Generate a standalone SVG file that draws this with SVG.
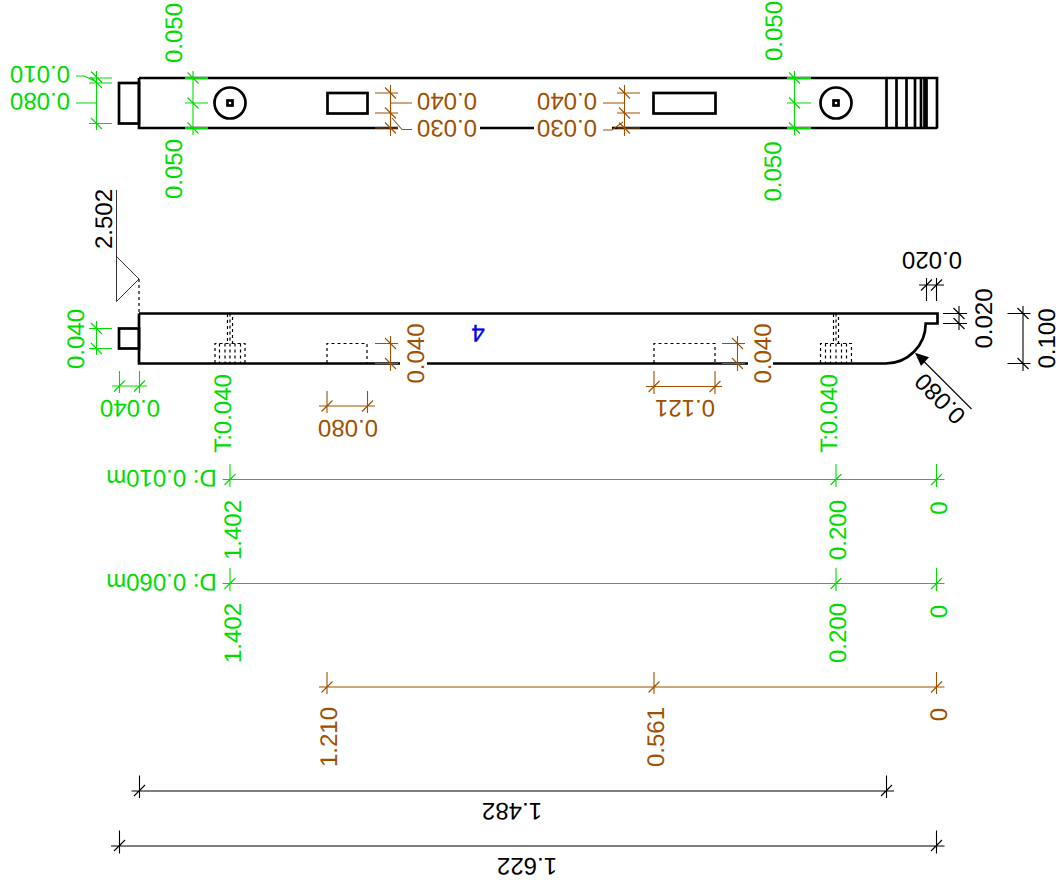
<svg xmlns="http://www.w3.org/2000/svg" width="1059" height="890" viewBox="0 0 1059 890">
<style>
text{font-family:"Liberation Sans",Arial,sans-serif;font-size:24px;text-anchor:middle;text-rendering:geometricPrecision}
.g{fill:#00dc00}.b{fill:#a05000}.k{fill:#000}
.lg,.lb,.lk,.ob,.th,.da{fill:none}
.lg{stroke:#00dc00;stroke-width:1.1}
.lb{stroke:#a05000;stroke-width:1.1}
.lk{stroke:#000;stroke-width:1.1}
.ob{stroke:#000;stroke-width:2.7;stroke-linejoin:miter}
.th{stroke:#000;stroke-width:1;opacity:.8}
.da{stroke:#000;stroke-width:1.2;stroke-dasharray:3 3}
.tg{stroke:#00dc00;stroke-width:2;fill:none}
</style>
<rect width="1059" height="890" fill="#fff"/>

<g id="plan-view">
<path class="ob" d="M139 78H937V128.500M937 128H612M534 128H480M398 128H139V78"/>
<rect class="ob" x="119" y="83" width="20" height="40.500"/>
<circle class="ob" cx="230" cy="103" r="15.500"/>
<rect class="ob" x="227.500" y="100.500" width="5" height="5"/>
<circle class="ob" cx="836" cy="103" r="15.500"/>
<rect class="ob" x="833.500" y="100.500" width="5" height="5"/>
<rect class="ob" x="327.500" y="93" width="40" height="20.500"/>
<rect class="ob" x="653.500" y="93" width="62" height="20.500"/>
<path class="ob" d="M886.500 78V128M896.500 78V128M906.500 78V128M915 78V128M921 78V128M924.500 78V128M926.500 78V128"/>
</g>

<g id="side-view">
<path class="ob" d="M139 313.500H937.500V323.500H925.700A40 40 0 0 1 885.700 363.500H773M748 363.500H427M400 363.500H139V313.500"/>
<rect class="ob" x="119" y="328.500" width="20" height="20"/>
<path class="da" d="M327 363V343.500H367V363M654 363V343.500H715V363"/>
<path class="da" d="M215 363V343.500H245V363M219.500 343.500V363M225 343.500V363M230 313.500V363M235 343.500V363M240.500 343.500V363M227.500 314V343M232.500 317V343"/>
<path class="da" d="M820.500 363V343.500H851.500V363M825.500 343.500V363M830.500 343.500V363M836 313.500V363M841.500 343.500V363M846.500 343.500V363M833.500 314V343M838.500 317V343"/>
<text transform="translate(478 325) rotate(180)" style="fill:#0000f0;stroke:#0000f0;stroke-width:.3">4</text>
</g>

<g id="level-marker">
<path class="th" d="M116.500 190V301.500L139 279L116.500 256.500"/>
<path class="da" d="M139 279V313"/>
<text class="k" transform="translate(112 219) rotate(-90)">2.502</text>
</g>

<g id="connectors">
<path class="lg" d="M96.500 71V130M89 78H112M89 83H112M89 123.500H112M91 71.500L102 82.500M91 77L102 88M91 118L102 129M76 76H84L96 81.500M76 103H96"/>
<path class="lg" d="M193 71V135M185 103H208M187.500 72.500L198.500 83.500M187.500 97.500L198.500 108.500M187.500 122.500L198.500 133.500"/>
<path class="tg" d="M185 78H208M185 128H208"/>
<path class="lg" d="M794.500 71V135M787 103H811M789 72.500L800 83.500M789 97.500L800 108.500M789 122.500L800 133.500"/>
<path class="tg" d="M787 78H811M787 128H811"/>
<path class="lb" d="M390.500 85V136M375 93H398M375 113H398M375 128H398M385 87.500L396 98.500M385 107.500L396 118.500M385 122.500L396 133.500M390 103H412M392 118L402 129.500H412"/>
<path class="lb" d="M624.500 85V136M617 93H640M617 113H640M617 128H640M619 87.500L630 98.500M619 107.500L630 118.500M619 122.500L630 133.500M603 103H624M623 122L612 130H603"/>
<path class="lg" d="M96.500 321V355M89 328.500H112M89 348.500H112M91 323L102 334M91 343L102 354"/>
<path class="lg" d="M119.500 371V393M139.500 371V393M112 386H147M114 391.500L125 380.500M134 391.500L145 380.500"/>
<path class="lb" d="M390.500 336V371M375 343.500H398M375 363.500H398M385 338L396 349M385 358L396 369"/>
<path class="lb" d="M737.500 336V371M722 343.500H745M722 363.500H745M732 338L743 349M732 358L743 369"/>
<path class="lb" d="M327 391V413M367.500 391V413M319 406H375M321.500 411.500L332.500 400.500M362 411.500L373 400.500"/>
<path class="lb" d="M654 371V394M715 371V394M646 386.500H722M648.500 392L659.500 381M709.500 392L720.500 381"/>
<path class="lk" d="M926.500 278V301M936.500 278V301M919 285H944M921 290.500L932 279.500M931 290.500L942 279.500"/>
<path class="lk" d="M959 306V330M943 313.500H967M943 323.500H967M953.500 308L964.500 319M953.500 318L964.500 329"/>
<path class="lk" d="M1023 306V371M1007.500 313.500H1030.500M1007.500 363.500H1030.500M1017.500 308L1028.500 319M1017.500 358L1028.500 369"/>
<path class="lk" d="M971.500 409L922 359.500"/>
<polygon points="915,352.700 921,366 929,357.300" fill="#000"/>
<path class="lg" d="M222.500 479.500H944.500M230 464V487M836 464V487M936.500 464V487M224.500 485L235.500 474M830.500 485L841.500 474M931 485L942 474"/>
<path class="lg" d="M222.500 583.500H944.500M230 568V591M836 568V591M936.500 568V591M224.500 589L235.500 578M830.500 589L841.500 578M931 589L942 578"/>
<path class="lb" d="M319 687H944.500M327 672V694M654 672V694M936.500 672V694M321.500 692.500L332.500 681.500M648.500 692.500L659.500 681.500M931 692.500L942 681.500"/>
<path class="lk" d="M131.500 791H894M139.500 775.500V798M886.500 775.500V798M134 796L145 785M881 796L892 785"/>
<path class="lk" d="M111 846H944.500M119.500 830.500V853.500M936.500 830.500V853.500M114 851L125 840M931 851L942 840"/>
</g>

<g id="labels">
<text class="g" transform="translate(40 66) rotate(180)">0.010</text>
<text class="g" transform="translate(40 93) rotate(180)">0.080</text>
<text class="g" transform="translate(182 33) rotate(-90)">0.050</text>
<text class="g" transform="translate(182 169) rotate(-90)">0.050</text>
<text class="g" transform="translate(781.500 31) rotate(-90)">0.050</text>
<text class="g" transform="translate(780.500 171.500) rotate(-90)">0.050</text>
<text class="b" transform="translate(447 93) rotate(180)">0.040</text>
<text class="b" transform="translate(447 120) rotate(180)">0.030</text>
<text class="b" transform="translate(567 93) rotate(180)">0.040</text>
<text class="b" transform="translate(567 120) rotate(180)">0.030</text>
<text class="g" transform="translate(84 339) rotate(-90)">0.040</text>
<text class="g" transform="translate(130 400) rotate(180)">0.040</text>
<text class="g" transform="translate(231 413.500) rotate(-90)">T:0.040</text>
<text class="g" transform="translate(837 413.500) rotate(-90)">T:0.040</text>
<text class="b" transform="translate(424 353.500) rotate(-90)">0.040</text>
<text class="b" transform="translate(771 353.500) rotate(-90)">0.040</text>
<text class="b" transform="translate(348 420) rotate(180)">0.080</text>
<text class="b" transform="translate(685 400) rotate(180)">0.121</text>
<text class="k" transform="translate(932 252) rotate(180)">0.020</text>
<text class="k" transform="translate(992 318.500) rotate(-90)">0.020</text>
<text class="k" transform="translate(1055 338.500) rotate(-90)">0.100</text>
<text class="k" transform="translate(945.800 392.900) rotate(225)">0.080</text>
<text class="g" transform="translate(161.500 470) rotate(180)">D: 0.010m</text>
<text class="g" transform="translate(161.500 574) rotate(180)">D: 0.060m</text>
<text class="g" transform="translate(241 530) rotate(-90)">1.402</text>
<text class="g" transform="translate(241 633) rotate(-90)">1.402</text>
<text class="g" transform="translate(846 530) rotate(-90)">0.200</text>
<text class="g" transform="translate(846 633) rotate(-90)">0.200</text>
<text class="g" transform="translate(946.500 508) rotate(-90)">0</text>
<text class="g" transform="translate(946.500 611.500) rotate(-90)">0</text>
<text class="b" transform="translate(337 737) rotate(-90)">1.210</text>
<text class="b" transform="translate(664 737) rotate(-90)">0.561</text>
<text class="b" transform="translate(946.500 714.500) rotate(-90)">0</text>
<text class="k" transform="translate(512 803) rotate(180)">1.482</text>
<text class="k" transform="translate(527 858) rotate(180)">1.622</text>
</g>
</svg>
